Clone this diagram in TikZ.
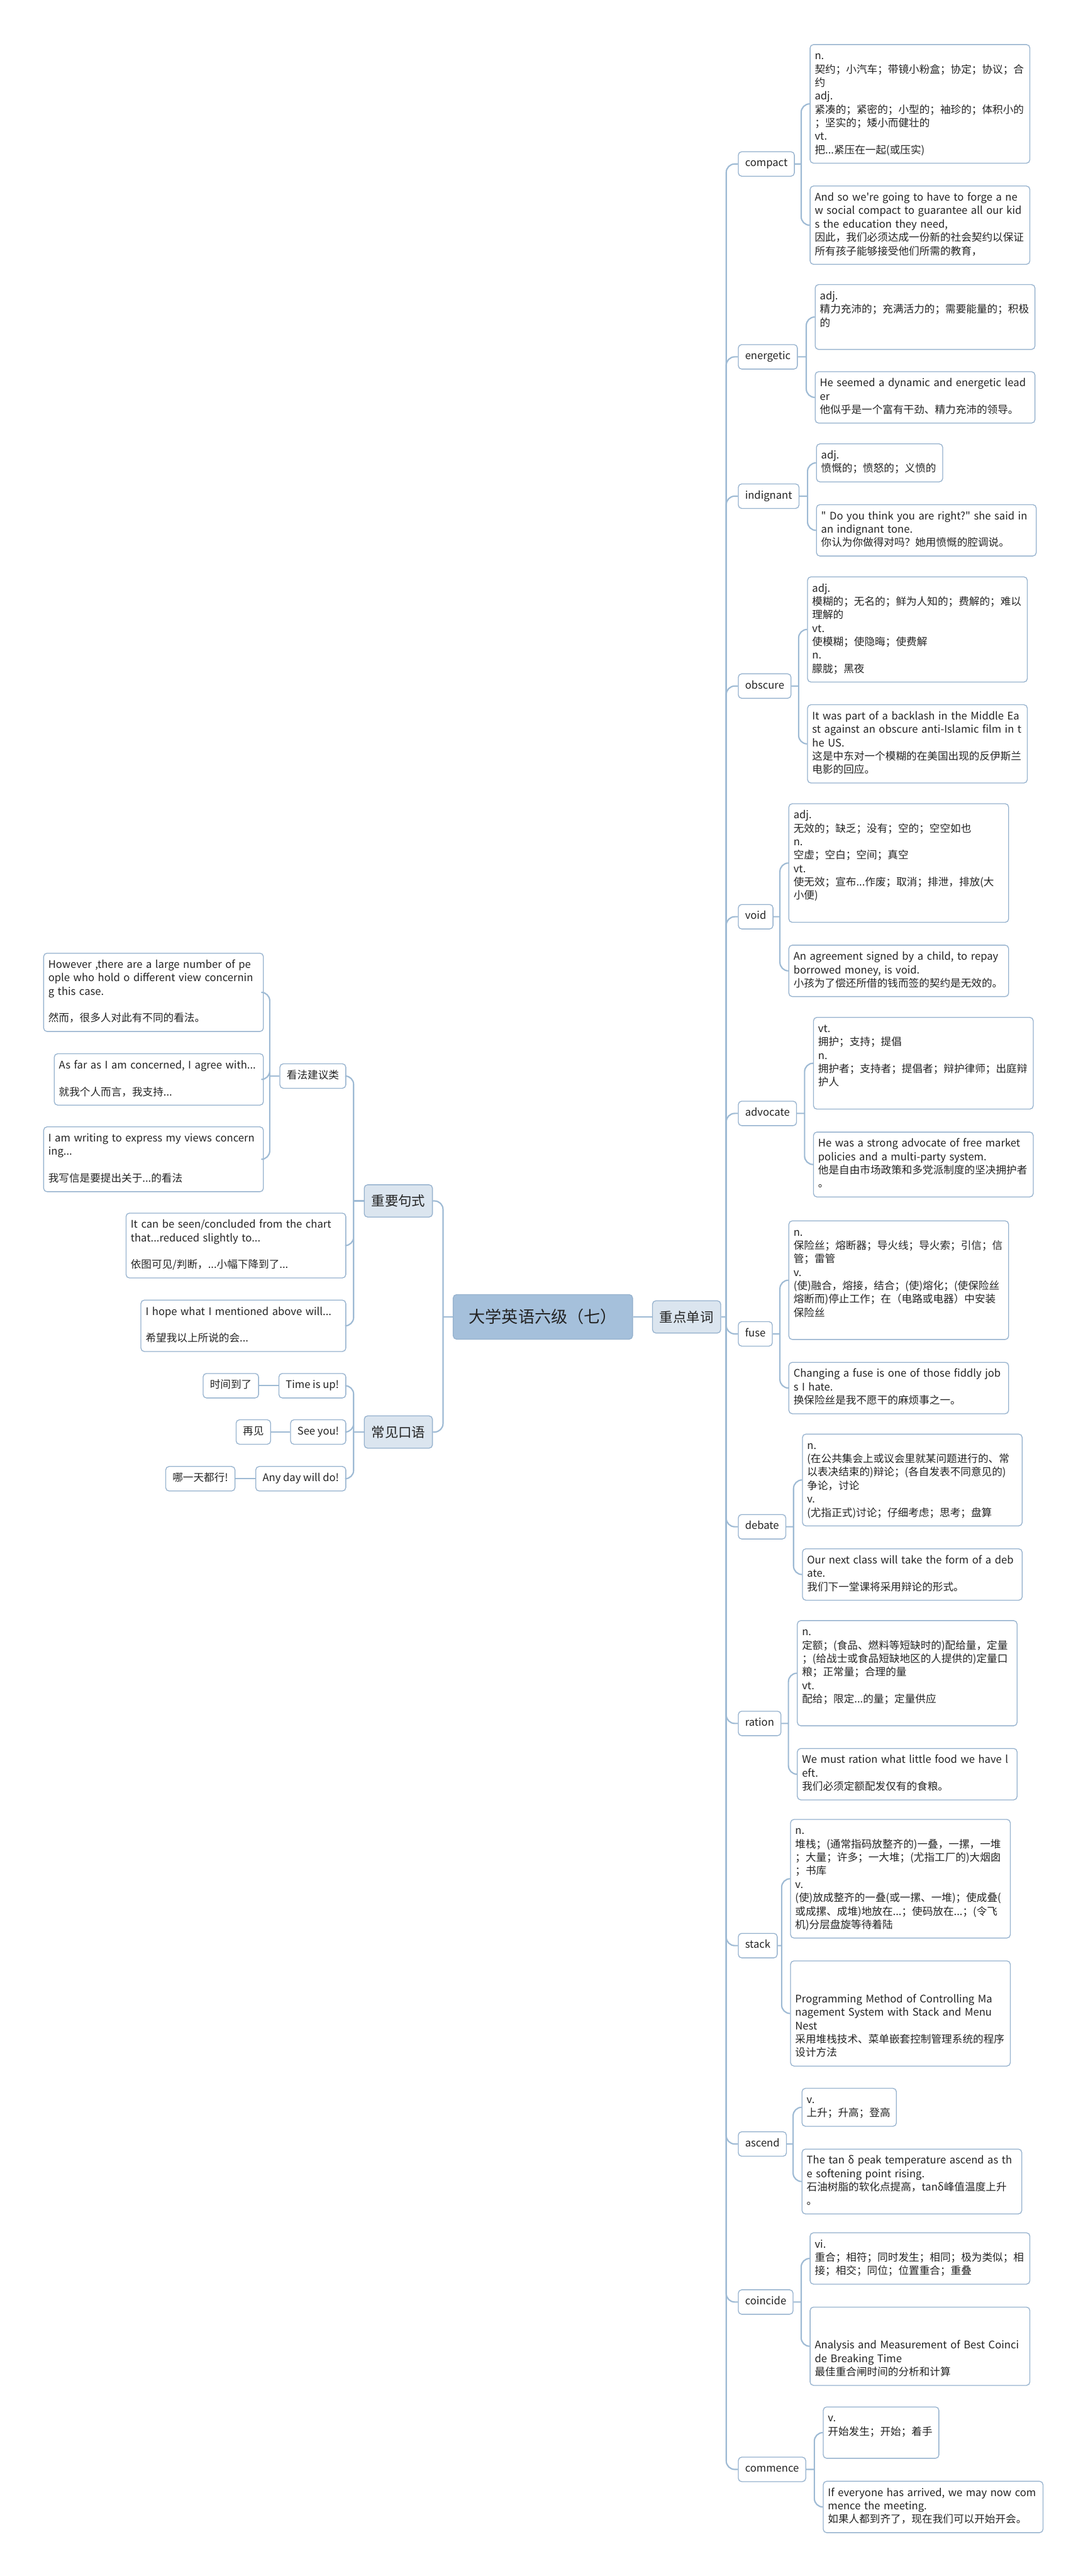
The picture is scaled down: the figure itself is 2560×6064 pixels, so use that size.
\documentclass[tikz,border=0pt]{standalone}
\usepackage{fontspec}
\setmainfont{Noto Sans CJK SC}[Ligatures=TeXOff]
\usetikzlibrary{positioning,calc}
\definecolor{linkblue}{RGB}{158,186,212}
\definecolor{edgeblue}{RGB}{150,178,206}
\definecolor{rootfill}{RGB}{165,192,219}
\definecolor{topicfill}{RGB}{219,229,239}
\definecolor{inkgray}{RGB}{35,35,35}

\begin{document}
\begin{tikzpicture}[x=0.01cm, y=-0.01cm,
  every node/.style={text=inkgray},
  leaf/.style={draw=edgeblue, line width=0.55pt, fill=white, rounded corners=0.08cm, anchor=north west, align=left, text width=4.95cm, inner xsep=0.11cm, inner ysep=0.13cm, font=\fontsize{7}{9}\selectfont, execute at begin node=\strut, execute at end node=\strut},
  tag/.style={draw=edgeblue, line width=0.55pt, fill=white, rounded corners=0.08cm, inner xsep=0.16cm, inner ysep=0.13cm, font=\fontsize{7}{9}\selectfont, execute at begin node=\strut},
  topic/.style={draw=edgeblue, line width=0.55pt, fill=topicfill, rounded corners=0.08cm, minimum height=0.76cm, inner xsep=0.17cm, font=\fontsize{9}{11}\selectfont},
  root/.style={draw=edgeblue, line width=0.55pt, fill=rootfill, rounded corners=0.08cm, minimum height=1.05cm, minimum width=4.22cm, font=\fontsize{11}{13}\selectfont},
  link/.style={draw=linkblue, line width=0.9pt, rounded corners=0.2cm}]
\fill[white] (0,0) rectangle (2560,6064);
\useasboundingbox (0,0) rectangle (2560,6064);

\node[root] (root) at (1278,3100) {大学英语六级（七）};
\node[topic, anchor=west] (words) at (1535,3100) {重点单词};
\node[topic, anchor=east] (sentences) at (1019,2827) {重要句式};
\node[topic, anchor=east] (spoken) at (1019,3371) {常见口语};

\node[tag, anchor=west] (compact) at (1737,386) {compact};
\node[tag, anchor=west] (energetic) at (1737,840) {energetic};
\node[tag, anchor=west] (indignant) at (1737,1168) {indignant};
\node[tag, anchor=west] (obscure) at (1737,1615) {obscure};
\node[tag, anchor=west] (void) at (1737,2158) {void};
\node[tag, anchor=west] (advocate) at (1737,2621) {advocate};
\node[tag, anchor=west] (fuse) at (1737,3140) {fuse};
\node[tag, anchor=west] (debate) at (1737,3594) {debate};
\node[tag, anchor=west] (ration) at (1737,4057) {ration};
\node[tag, anchor=west] (stack) at (1737,4580) {stack};
\node[tag, anchor=west] (ascend) at (1737,5047) {ascend};
\node[tag, anchor=west] (coincide) at (1737,5419) {coincide};
\node[tag, anchor=west] (commence) at (1737,5813) {commence};

\node[leaf] (compact-def) at (1906,104) {n.\\契约；小汽车；带镜小粉盒；协定；协议；合\\约\\adj.\\紧凑的；紧密的；小型的；袖珍的；体积小的\\；坚实的；矮小而健壮的\\vt.\\把...紧压在一起(或压实)};
\node[leaf] (compact-ex) at (1906,437) {And so we're going to have to forge a ne\\w social compact to guarantee all our kid\\s the education they need,\\因此，我们必须达成一份新的社会契约以保证\\所有孩子能够接受他们所需的教育，};
\node[leaf] (energetic-def) at (1918,669) {adj.\\精力充沛的；充满活力的；需要能量的；积极\\的\\~};
\node[leaf] (energetic-ex) at (1918,874) {He seemed a dynamic and energetic lead\\er\\他似乎是一个富有干劲、精力充沛的领导。};
\node[leaf, text width=2.75cm] (indignant-def) at (1921,1044) {adj.\\愤慨的；愤怒的；义愤的};
\node[leaf] (indignant-ex) at (1921,1187) {" Do you think you are right?" she said in\\an indignant tone.\\你认为你做得对吗？她用愤慨的腔调说。};
\node[leaf] (obscure-def) at (1900,1357) {adj.\\模糊的；无名的；鲜为人知的；费解的；难以\\理解的\\vt.\\使模糊；使隐晦；使费解\\n.\\朦胧；黑夜};
\node[leaf] (obscure-ex) at (1900,1658) {It was part of a backlash in the Middle Ea\\st against an obscure anti-Islamic film in t\\he US.\\这是中东对一个模糊的在美国出现的反伊斯兰\\电影的回应。};
\node[leaf] (void-def) at (1856,1891) {adj.\\无效的；缺乏；没有；空的；空空如也\\n.\\空虚；空白；空间；真空\\vt.\\使无效；宣布...作废；取消；排泄，排放(大\\小便)\\~};
\node[leaf] (void-ex) at (1856,2224) {An agreement signed by a child, to repay\\borrowed money, is void.\\小孩为了偿还所借的钱而签的契约是无效的。};
\node[leaf] (advocate-def) at (1914,2394) {vt.\\拥护；支持；提倡\\n.\\拥护者；支持者；提倡者；辩护律师；出庭辩\\护人\\~};
\node[leaf] (advocate-ex) at (1914,2664) {He was a strong advocate of free market\\policies and a multi-party system.\\他是自由市场政策和多党派制度的坚决拥护者\\。};
\node[leaf] (fuse-def) at (1856,2873) {n.\\保险丝；熔断器；导火线；导火索；引信；信\\管；雷管\\v.\\(使)融合，熔接，结合；(使)熔化；(使保险丝\\熔断而)停止工作；在（电路或电器）中安装\\保险丝\\~};
\node[leaf] (fuse-ex) at (1856,3206) {Changing a fuse is one of those fiddly job\\s I hate.\\换保险丝是我不愿干的麻烦事之一。};
\node[leaf] (debate-def) at (1888,3375) {n.\\(在公共集会上或议会里就某问题进行的、常\\以表决结束的)辩论；(各自发表不同意见的)\\争论，讨论\\v.\\(尤指正式)讨论；仔细考虑；思考；盘算};
\node[leaf] (debate-ex) at (1888,3645) {Our next class will take the form of a deb\\ate.\\我们下一堂课将采用辩论的形式。};
\node[leaf] (ration-def) at (1876,3814) {n.\\定额；(食品、燃料等短缺时的)配给量，定量\\；(给战士或食品短缺地区的人提供的)定量口\\粮；正常量；合理的量\\vt.\\配给；限定...的量；定量供应\\~};
\node[leaf] (ration-ex) at (1876,4115) {We must ration what little food we have l\\eft.\\我们必须定额配发仅有的食粮。};
\node[leaf] (stack-def) at (1860,4282) {n.\\堆栈；(通常指码放整齐的)一叠，一摞，一堆\\；大量；许多；一大堆；(尤指工厂的)大烟囱\\；书库\\v.\\(使)放成整齐的一叠(或一摞、一堆)；使成叠(\\或成摞、成堆)地放在...；使码放在...；(令飞\\机)分层盘旋等待着陆};
\node[leaf] (stack-ex) at (1860,4615) {~\\~\\Programming Method of Controlling Ma\\nagement System with Stack and Menu\\Nest\\采用堆栈技术、菜单嵌套控制管理系统的程序\\设计方法};
\node[leaf, text width=2.0cm] (ascend-def) at (1887,4915) {v.\\上升；升高；登高};
\node[leaf] (ascend-ex) at (1887,5058) {The tan δ peak temperature ascend as th\\e softening point rising.\\石油树脂的软化点提高，tanδ峰值温度上升\\。};
\node[leaf] (coincide-def) at (1906,5255) {vi.\\重合；相符；同时发生；相同；极为类似；相\\接；相交；同位；位置重合；重叠};
\node[leaf] (coincide-ex) at (1906,5430) {~\\~\\Analysis and Measurement of Best Coinci\\de Breaking Time\\最佳重合闸时间的分析和计算};
\node[leaf, text width=2.5cm] (commence-def) at (1937,5665) {v.\\开始发生；开始；着手\\~};
\node[leaf] (commence-ex) at (1937,5840) {If everyone has arrived, we may now com\\mence the meeting.\\如果人都到齐了，现在我们可以开始开会。};

\node[tag, anchor=east] (views) at (815,2533) {看法建议类};
\node[leaf, anchor=east] (however) at (621,2336) {However ,there are a large number of pe\\ople who hold o different view concernin\\g this case.\\~\\然而，很多人对此有不同的看法。};
\node[leaf, anchor=east, text width=4.70cm] (asfar) at (621,2541) {As far as I am concerned, I agree with...\\~\\就我个人而言，我支持...};
\node[leaf, anchor=east] (writing) at (621,2729) {I am writing to express my views concern\\ing...\\~\\我写信是要提出关于...的看法};
\node[leaf, anchor=east] (chart) at (815,2932) {It can be seen/concluded from the chart\\that...reduced slightly to...\\~\\依图可见/判断，...小幅下降到了...};
\node[leaf, anchor=east, text width=4.6cm] (hope) at (815,3121) {I hope what I mentioned above will...\\~\\希望我以上所说的会...};

\node[tag, anchor=east] (timeup) at (815,3262) {Time is up!};
\node[tag, left=0.46cm of timeup] (timeupcn) {时间到了};
\node[tag, anchor=east] (seeyou) at (815,3371) {See you!};
\node[tag, left=0.45cm of seeyou] (seeyoucn) {再见};
\node[tag, anchor=east] (anyday) at (815,3481) {Any day will do!};
\node[tag, left=0.47cm of anyday] (anydaycn) {哪一天都行!};

\draw[link] (root.east) -- (words.west);
\draw[link] (words.east) -- ++(12,0) coordinate (fwords);
\foreach \w in {compact,energetic,indignant,obscure,void,advocate,fuse,debate,ration,stack,ascend,coincide,commence}{
  \draw[link] (fwords) |- (\w.west);
  \coordinate (f\w) at ($(\w.east -| \w-def.west)+(-20,0)$);
  \draw[link] (\w.east) -- (f\w) (f\w) |- (\w-def.west) (f\w) |- (\w-ex.west);
}

\draw[link] (root.west) -- ++(-23,0) coordinate (froot);
\draw[link] (froot) |- (sentences.east) (froot) |- (spoken.east);
\draw[link] (sentences.west) -- ++(-24,0) coordinate (fsent);
\draw[link] (fsent) |- (views.east) (fsent) |- (chart.east) (fsent) |- (hope.east);
\draw[link] (views.west) -- ++(-23,0) coordinate (fviews);
\draw[link] (fviews) |- (however.east) (fviews) |- (asfar.east) (fviews) |- (writing.east);
\draw[link] (spoken.west) -- ++(-24,0) coordinate (fspoken);
\draw[link] (fspoken) |- (timeup.east) (fspoken) |- (seeyou.east) (fspoken) |- (anyday.east);
\draw[link] (timeup.west) -- (timeupcn.east);
\draw[link] (seeyou.west) -- (seeyoucn.east);
\draw[link] (anyday.west) -- (anydaycn.east);
\end{tikzpicture}
\end{document}
